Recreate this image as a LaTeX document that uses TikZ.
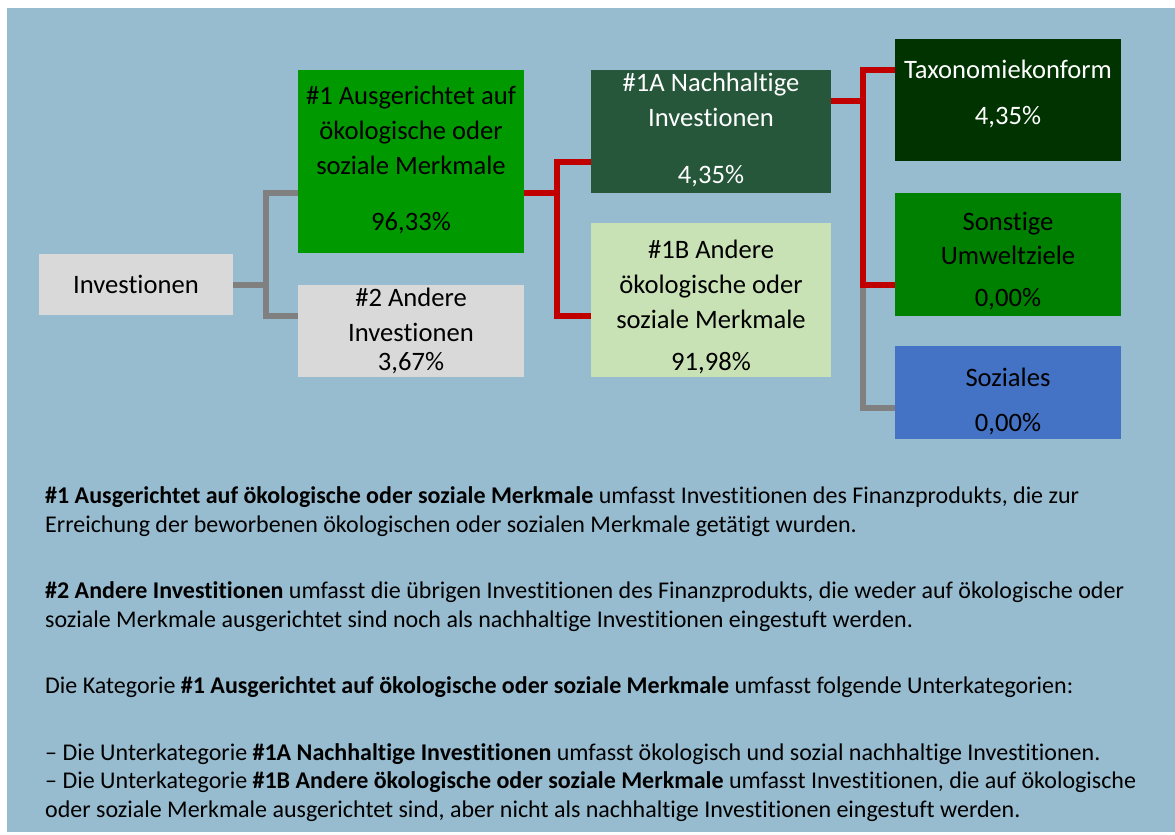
\documentclass[tikz,border=0pt]{standalone}
\usepackage{fontspec}
\setmainfont{Carlito}[Ligatures=NoCommon]
\definecolor{hintergrund}{HTML}{97BBCF}
\definecolor{grauhell}{HTML}{D9D9D9}
\definecolor{gruen}{HTML}{009900}
\definecolor{dunkelgruen}{HTML}{26573B}
\definecolor{hellgruen}{HTML}{C8E1B5}
\definecolor{taxgruen}{HTML}{003300}
\definecolor{mittelgruen}{HTML}{008000}
\definecolor{sozblau}{HTML}{4472C4}
\definecolor{linienrot}{HTML}{C00000}
\definecolor{liniengrau}{HTML}{808080}
\tikzset{
  kasten/.style={rectangle,inner sep=0pt,draw=none},
  ktext/.style={anchor=base,inner sep=0pt,font=\fontsize{26.6}{31}\selectfont},
  ftext/.style={anchor=base west,inner sep=0pt,font=\fontsize{24}{28}\selectfont},
  rotlinie/.style={draw=linienrot,line width=6pt},
  graulinie/.style={draw=liniengrau,line width=6pt}
}
\begin{document}
\begin{tikzpicture}[x=1pt,y=-1pt]
	\useasboundingbox (0,0) rectangle (1175,835);
	\fill[hintergrund] (7,8) rectangle (1175,832);
	% Kaesten
	\node[kasten,fill=grauhell,minimum width=194pt,minimum height=61pt] (inv) at (136,284.5) {};
	\node[kasten,fill=gruen,minimum width=226pt,minimum height=183pt] (merk) at (411,161.5) {};
	\node[kasten,fill=grauhell,minimum width=226pt,minimum height=92pt] (andere) at (411,331) {};
	\node[kasten,fill=dunkelgruen,minimum width=240pt,minimum height=123pt] (nach) at (711,131.5) {};
	\node[kasten,fill=hellgruen,minimum width=240pt,minimum height=154pt] (andmerk) at (711,300) {};
	\node[kasten,fill=taxgruen,minimum width=226pt,minimum height=122pt] (tax) at (1008,100) {};
	\node[kasten,fill=mittelgruen,minimum width=226pt,minimum height=123pt] (sonst) at (1008,254.5) {};
	\node[kasten,fill=sozblau,minimum width=226pt,minimum height=93pt] (soz) at (1008,392.5) {};
	% Verbindungen
	\coordinate (gk) at (266,284.5);\coordinate (rk1) at (557,193);\coordinate (rk2) at (863,101);\coordinate (rk3) at (863,285);
	\draw[graulinie] (inv.east) -- (gk);
	\draw[graulinie] ([yshift=-31.5pt]merk.west) -| (gk) |- ([yshift=15pt]andere.west);
	\draw[graulinie] (rk3) |- ([yshift=-15.5pt]soz.west);
	\draw[rotlinie] ([yshift=-31.5pt]merk.east) -- (rk1);
	\draw[rotlinie] ([yshift=-30.5pt]nach.west) -| (rk1) |- ([yshift=-16pt]andmerk.west);
	\draw[rotlinie] ([yshift=30.5pt]nach.east) -- (rk2);
	\draw[rotlinie] ([yshift=30pt]tax.west) -| (rk2) |- ([yshift=-30.5pt]sonst.west);
	% Beschriftungen
	\node[ktext] (inv-t) at (136,293) {Investionen};
	\node[ktext] (merk-a) at (411,104) {\#1 Ausgerichtet auf};\node[ktext] (merk-b) at (411,139) {ökologische oder};
	\node[ktext] (merk-c) at (411,174) {soziale Merkmale};\node[ktext] (merk-d) at (411,230) {96,33\%};
	\node[ktext] (andere-a) at (411,306) {\#2 Andere};\node[ktext] (andere-b) at (411,341) {Investionen};\node[ktext] (andere-c) at (411,370) {3,67\%};
	\node[ktext,white] (nach-a) at (711,91) {\#1A Nachhaltige};\node[ktext,white] (nach-b) at (711,126) {Investionen};\node[ktext,white] (nach-c) at (711,183) {4,35\%};
	\node[ktext] (andmerk-a) at (711,258) {\#1B Andere};\node[ktext] (andmerk-b) at (711,293) {ökologische oder};
	\node[ktext] (andmerk-c) at (711,328) {soziale Merkmale};\node[ktext] (andmerk-d) at (711,370) {91,98\%};
	\node[ktext,white] (tax-a) at (1008,78) {Taxonomiekonform};\node[ktext,white] (tax-b) at (1008,124) {4,35\%};
	\node[ktext] (sonst-a) at (1008,230) {Sonstige};\node[ktext] (sonst-b) at (1008,264) {Umweltziele};\node[ktext] (sonst-c) at (1008,306) {0,00\%};
	\node[ktext] (soz-a) at (1008,386) {Soziales};\node[ktext] (soz-b) at (1008,431) {0,00\%};
	% Erlaeuterung
	\node[ftext] (erl-1) at (45,503) {\textbf{\#1 Ausgerichtet auf ökologische oder soziale Merkmale} umfasst Investitionen des Finanzprodukts, die zur};
	\node[ftext] (erl-2) at (45,532) {Erreichung der beworbenen ökologischen oder sozialen Merkmale getätigt wurden.};
	\node[ftext] (erl-3) at (45,598) {\textbf{\#2 Andere Investitionen} umfasst die übrigen Investitionen des Finanzprodukts, die weder auf ökologische oder};
	\node[ftext] (erl-4) at (45,627) {soziale Merkmale ausgerichtet sind noch als nachhaltige Investitionen eingestuft werden.};
	\node[ftext] (erl-5) at (45,693) {Die Kategorie \textbf{\#1 Ausgerichtet auf ökologische oder soziale Merkmale} umfasst folgende Unterkategorien:};
	\node[ftext] (erl-6) at (45,760) {– Die Unterkategorie \textbf{\#1A Nachhaltige Investitionen} umfasst ökologisch und sozial nachhaltige Investitionen.};
	\node[ftext] (erl-7) at (45,788) {– Die Unterkategorie \textbf{\#1B Andere ökologische oder soziale Merkmale} umfasst Investitionen, die auf ökologische};
	\node[ftext] (erl-8) at (45,817) {oder soziale Merkmale ausgerichtet sind, aber nicht als nachhaltige Investitionen eingestuft werden.};
\end{tikzpicture}
\end{document}
